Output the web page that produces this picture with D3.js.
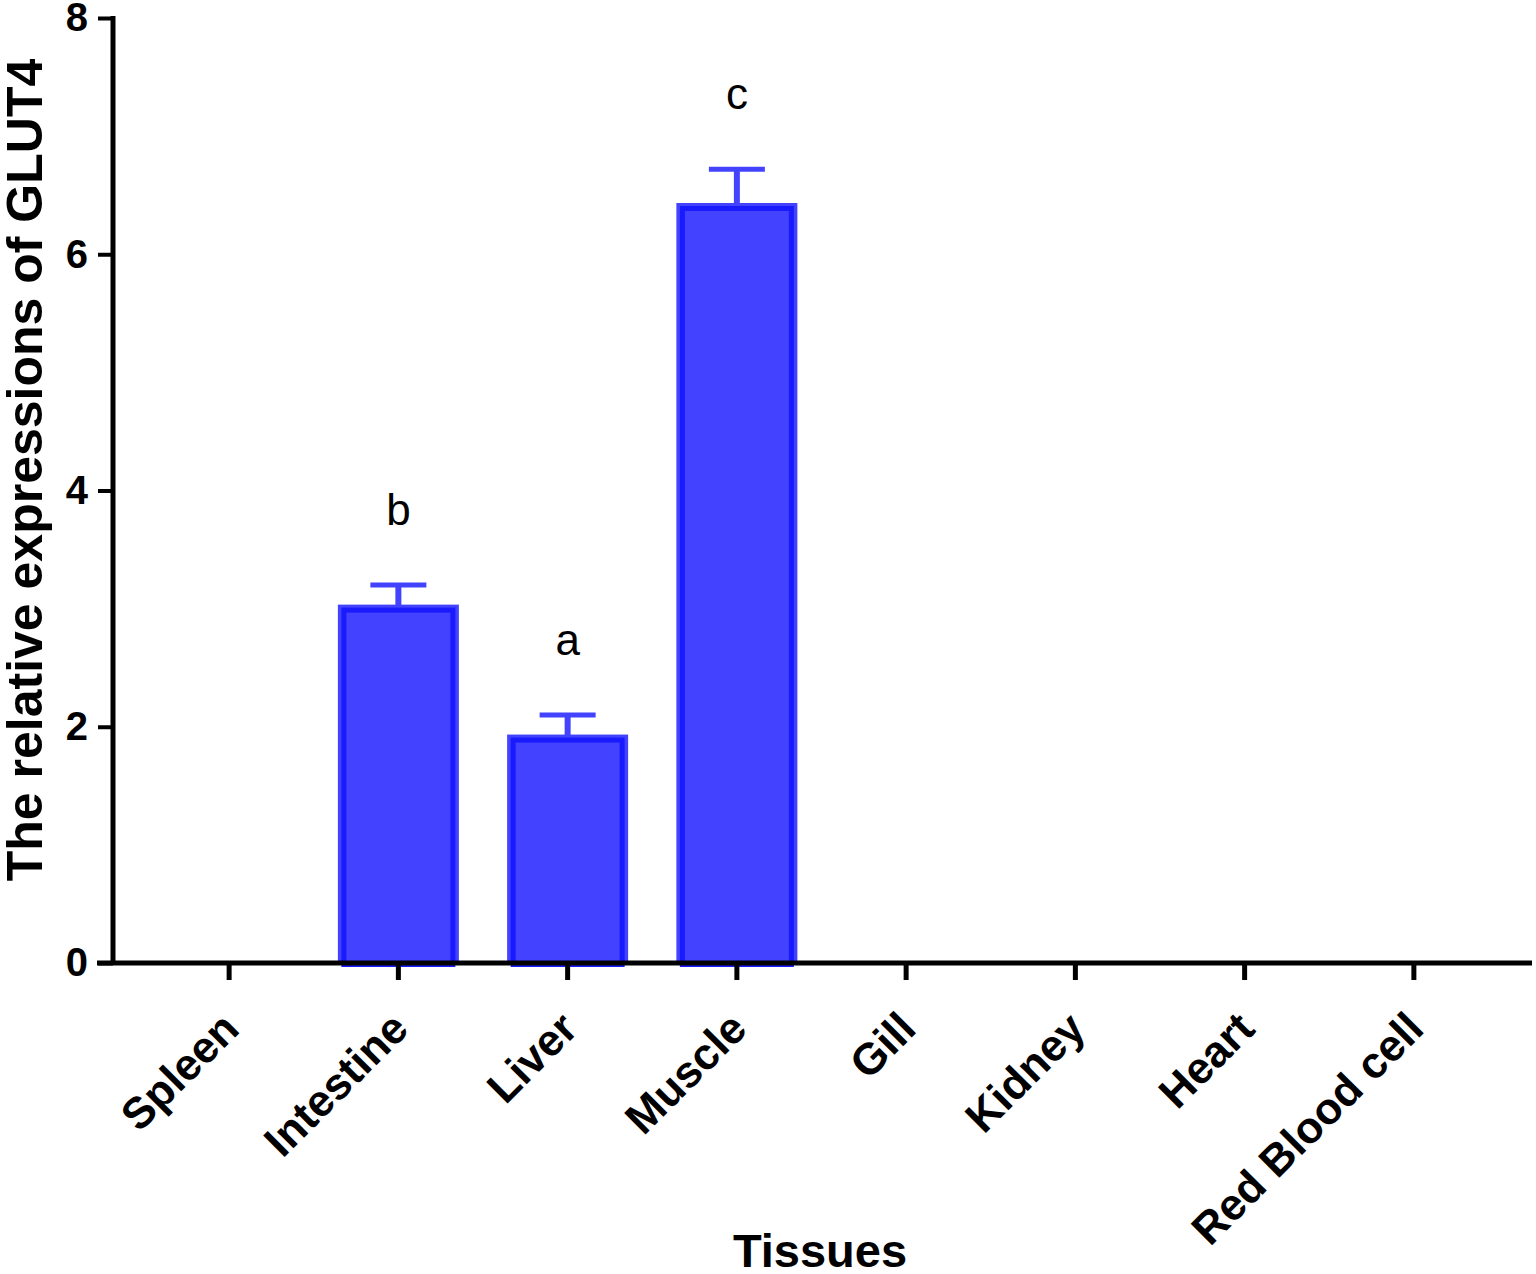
<!DOCTYPE html>
<html>
<head>
<meta charset="utf-8">
<script src="https://cdn.jsdelivr.net/npm/d3@7"></script>
<style>
  html, body { margin: 0; padding: 0; background: #fff; }
  svg { display: block; font-family: "Liberation Sans", Arial, sans-serif; }
</style>
</head>
<body>
<svg id="chart" width="1536" height="1274"></svg>
<script>
const tissues = ["Spleen", "Intestine", "Liver", "Muscle", "Gill", "Kidney", "Heart", "Red Blood cell"];
const means = [0, 3.0, 1.9, 6.4, 0, 0, 0, 0];
const sems = [0, 0.2, 0.2, 0.32, 0, 0, 0, 0];
const letters = ["", "b", "a", "c", "", "", "", ""];
const yTicks = [0, 2, 4, 6, 8];

const fillBlue = "#4343ff";
const edgeBlue = "#1a1aff";

const svg = d3.select("#chart");

const x = d3.scaleBand().domain(tissues).range([144.5, 1498.5]);
const y = d3.scaleLinear().domain([0, 8]).range([963, 18]);

const rows = tissues.map((t, i) => ({ t, v: means[i], e: sems[i], l: letters[i] }));
const bars = rows.filter(d => d.v > 0);
const cx = d => x(d.t) + x.bandwidth() / 2;

// bars: light outer body, darker inset edge
svg.append("g").selectAll("rect").data(bars).join("rect")
  .attr("x", d => cx(d) - 60.5)
  .attr("width", 121)
  .attr("y", d => y(d.v) - 4)
  .attr("height", d => y(0) - y(d.v) + 4)
  .attr("fill", fillBlue);

svg.append("g").selectAll("rect").data(bars).join("rect")
  .attr("x", d => cx(d) - 54.5)
  .attr("width", 109)
  .attr("y", d => y(d.v) + 1.5)
  .attr("height", d => y(0) - y(d.v))
  .attr("fill", "none")
  .attr("stroke", edgeBlue)
  .attr("stroke-width", 5);

// error bars (upper only)
const err = svg.append("g").attr("stroke", fillBlue);
err.selectAll("line.stem").data(bars).join("line")
  .attr("class", "stem")
  .attr("x1", cx).attr("x2", cx)
  .attr("y1", d => y(d.v) - 3)
  .attr("y2", d => y(d.v + d.e))
  .attr("stroke-width", 6);
err.selectAll("line.cap").data(bars).join("line")
  .attr("class", "cap")
  .attr("x1", d => cx(d) - 28).attr("x2", d => cx(d) + 28)
  .attr("y1", d => y(d.v + d.e)).attr("y2", d => y(d.v + d.e))
  .attr("stroke-width", 5);

// significance letters
svg.append("g").selectAll("text").data(bars).join("text")
  .attr("x", cx)
  .attr("y", d => y(d.v + d.e) - 60)
  .attr("text-anchor", "middle")
  .attr("font-size", 44)
  .attr("fill", "#000")
  .text(d => d.l);

// y axis
const yAxis = svg.append("g")
  .attr("transform", "translate(113,0)")
  .call(d3.axisLeft(y).tickValues(yTicks).tickSize(15).tickPadding(10).tickFormat(d3.format("d")));
yAxis.select(".domain").remove();
yAxis.selectAll(".tick line").attr("stroke", "#000").attr("stroke-width", 4);
yAxis.selectAll(".tick text")
  .attr("font-size", 40).attr("font-weight", "bold").attr("fill", "#000")
  .attr("font-family", "Liberation Sans, Arial, sans-serif");
svg.append("line")
  .attr("x1", 113).attr("x2", 113)
  .attr("y1", y(8) - 2).attr("y2", y(0))
  .attr("stroke", "#000").attr("stroke-width", 5);

// x axis
const xAxis = svg.append("g")
  .attr("transform", `translate(0,${y(0)})`)
  .call(d3.axisBottom(x).tickSize(17).tickSizeOuter(0));
xAxis.select(".domain").remove();
xAxis.selectAll(".tick line").attr("stroke", "#000").attr("stroke-width", 5);
xAxis.selectAll(".tick text")
  .attr("font-size", 44).attr("font-weight", "bold").attr("fill", "#000")
  .attr("font-family", "Liberation Sans, Arial, sans-serif")
  .attr("text-anchor", "end")
  .attr("dy", null)
  .attr("transform", "translate(-2,54) rotate(-45)");
svg.append("line")
  .attr("x1", 97).attr("x2", 1532)
  .attr("y1", y(0)).attr("y2", y(0))
  .attr("stroke", "#000").attr("stroke-width", 5);

// axis titles
svg.append("text")
  .attr("transform", "translate(42,470) rotate(-90)")
  .attr("text-anchor", "middle")
  .attr("font-size", 50).attr("font-weight", "bold")
  .text("The relative expressions of GLUT4");

svg.append("text")
  .attr("x", 820).attr("y", 1267)
  .attr("text-anchor", "middle")
  .attr("font-size", 47).attr("font-weight", "bold")
  .text("Tissues");
</script>
</body>
</html>
